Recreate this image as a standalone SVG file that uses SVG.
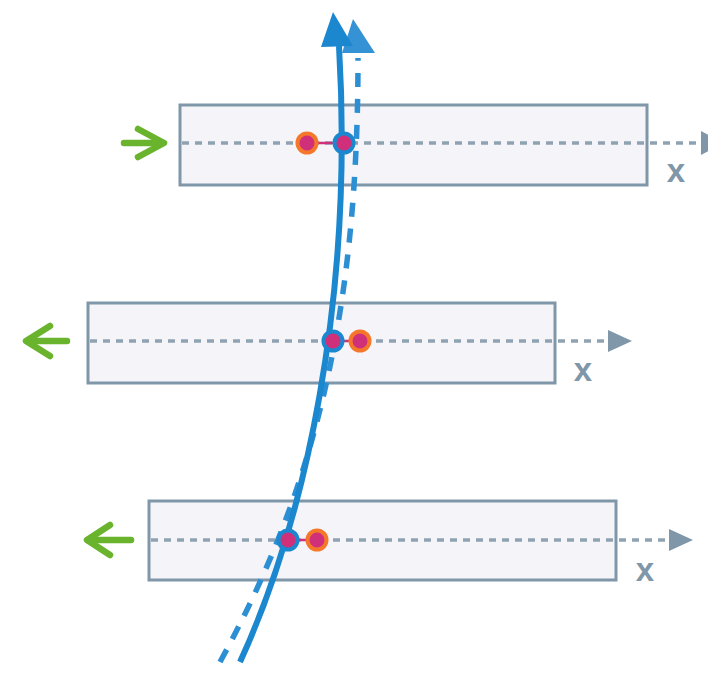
<svg xmlns="http://www.w3.org/2000/svg" width="708" height="684" viewBox="0 0 708 684">
<style>
.box{fill:#f4f4f9;stroke:#7f97a8;stroke-width:3}
.axis{fill:none;stroke:#8ea2b1;stroke-width:3.5;stroke-dasharray:7 6}
.axhead{fill:#7f97a8}
.xl{font-family:"Liberation Sans",Arial,sans-serif;font-size:33px;font-weight:bold;fill:#7f97a8;text-anchor:middle}
.force{fill:none;stroke:#6ab42d;stroke-width:6.5;stroke-linecap:round;stroke-linejoin:round}
.link{stroke:#d0307a;stroke-width:2.5}
.dotb{fill:#d0307a;stroke:#1b87cf;stroke-width:4}
.doto{fill:#d0307a;stroke:#f5782a;stroke-width:4}
.solid{fill:none;stroke:#1b87cf;stroke-width:6}
.dash{fill:none;stroke:#2d8fd3;stroke-width:5.5;stroke-dasharray:14 12}
</style>
<g id="box1">
<rect class="box" x="180" y="105" width="467" height="80"/>
<line class="axis" x1="182" y1="143" x2="702" y2="143"/>
<polygon class="axhead" points="701,131 724,143 701,155"/>
<text class="xl" x="676" y="182">x</text>
<polyline class="force" points="124,143 162,143"/>
<polyline class="force" points="138,129 164,143 138,157"/>
</g>
<g id="box2">
<rect class="box" x="88" y="303" width="467" height="80"/>
<line class="axis" x1="90" y1="341" x2="610" y2="341"/>
<polygon class="axhead" points="608,330 632,341 608,352"/>
<text class="xl" x="583" y="381">x</text>
<polyline class="force" points="67,341 28,341"/>
<polyline class="force" points="50,326 26,341 50,356"/>
</g>
<g id="box3">
<rect class="box" x="149" y="501" width="467" height="79"/>
<line class="axis" x1="151" y1="540" x2="671" y2="540"/>
<polygon class="axhead" points="669,529 693,540 669,551"/>
<text class="xl" x="645" y="581">x</text>
<polyline class="force" points="131,540 89,540"/>
<polyline class="force" points="110,525 87,540 110,555"/>
</g>
<g id="connectors">
<path class="dash" d="M220,662 C320,480 358,300 358,58"/>
<polygon fill="#3592d4" points="353,19 375,53 342,53"/>
<path class="solid" d="M240,662 C305,520 354,300 339,46"/>
<polygon fill="#1b87cf" points="333,12 353,46 321,47"/>
</g>
<g id="dots1">
<line class="link" x1="307" y1="143" x2="344" y2="143"/>
<circle class="doto" cx="307" cy="143" r="9.5"/>
<circle class="dotb" cx="344" cy="143" r="9.5"/>
</g>
<g id="dots2">
<line class="link" x1="333" y1="341" x2="360" y2="341"/>
<circle class="dotb" cx="333" cy="341" r="9.5"/>
<circle class="doto" cx="360" cy="341" r="9.5"/>
</g>
<g id="dots3">
<line class="link" x1="288" y1="540" x2="317" y2="540"/>
<circle class="dotb" cx="288" cy="540" r="9.5"/>
<circle class="doto" cx="317" cy="540" r="9.5"/>
</g>
</svg>
